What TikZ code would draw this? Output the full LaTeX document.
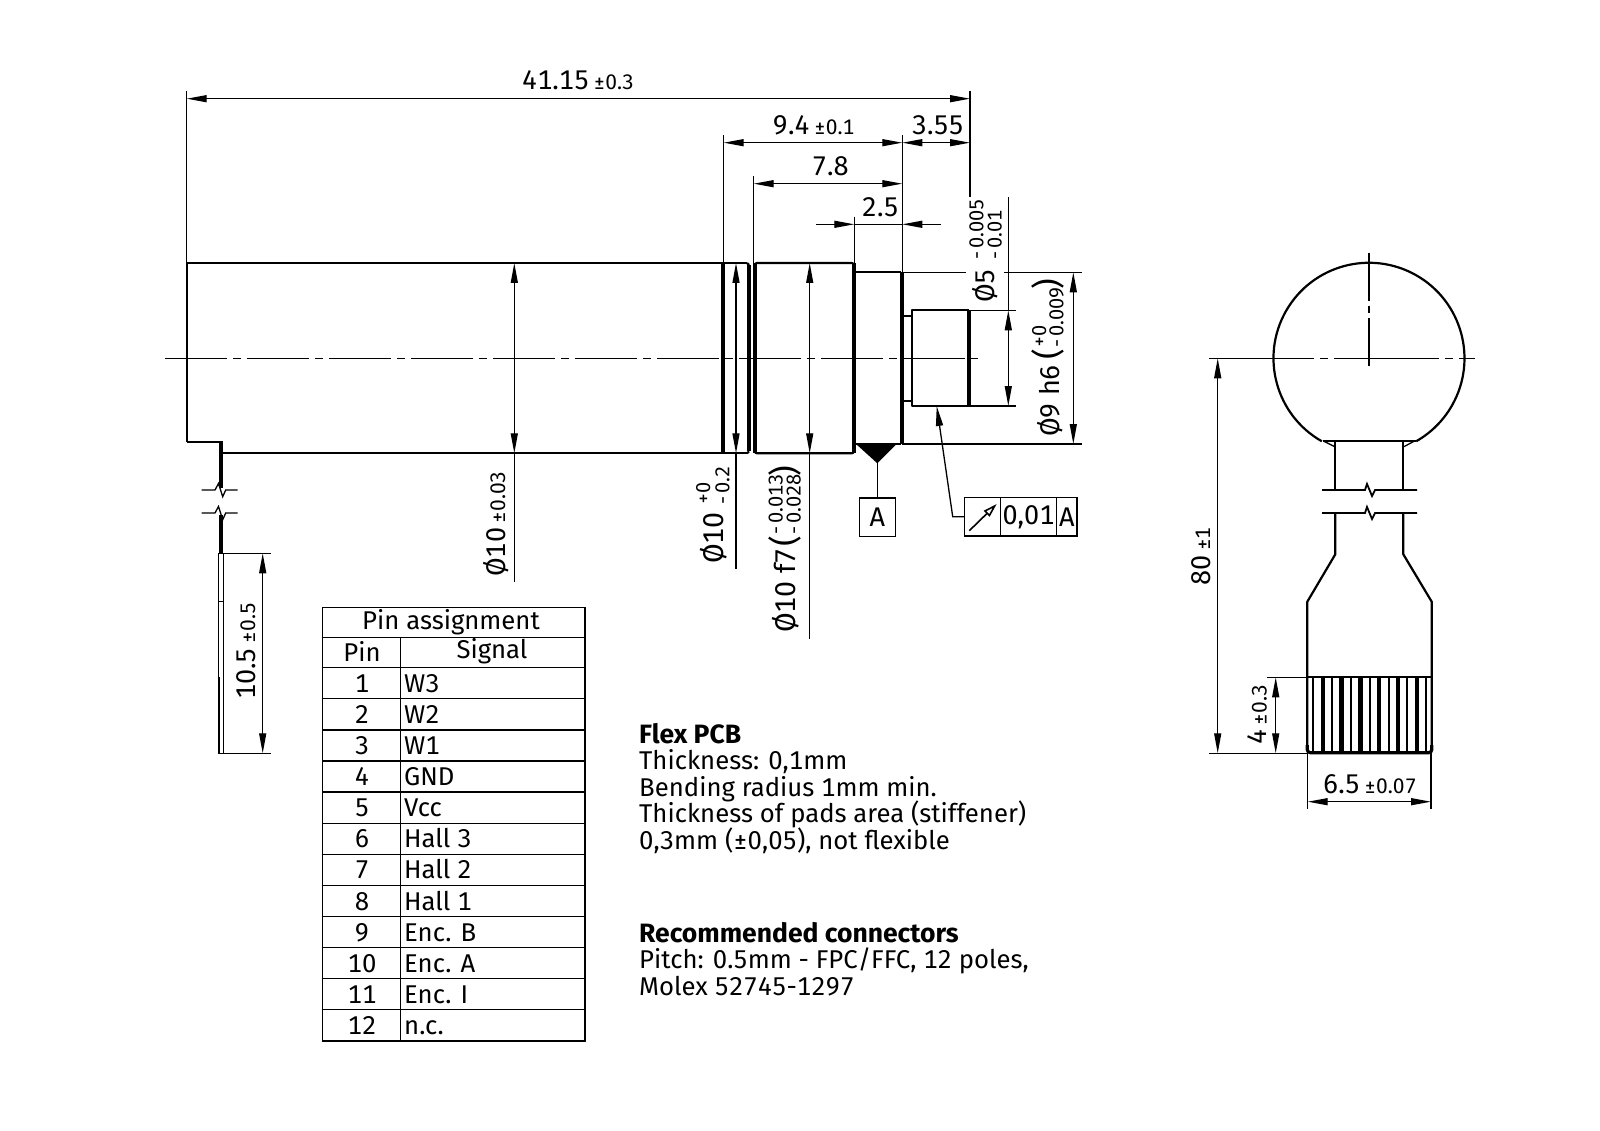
\documentclass[tikz,border=0pt]{standalone}
\usepackage{fontspec}
\setmainfont[Numbers=Monospaced]{Fira Sans}
\usetikzlibrary{arrows.meta}
\newcommand{\tol}[1]{\,{\fontsize{21}{21}\selectfont #1}}
\begin{document}
\begin{tikzpicture}[x=1pt, y=-1pt, >={Triangle[length=20pt,width=7pt]}]
\tikzstyle{outline}=[line width=2.2pt, line join=round]
\tikzstyle{heavy}=[line width=4pt]
\tikzstyle{thin}=[line width=1.3pt]
\tikzstyle{axis}=[line width=1.2pt, dash pattern=on 62pt off 6pt on 8pt off 6pt]
\tikzstyle{big}=[inner sep=0pt, font=\fontsize{27}{27}\selectfont]
\tikzstyle{diam}=[inner sep=0pt, font=\fontsize{28.5}{28.5}\selectfont]
\tikzstyle{small}=[inner sep=0pt, font=\fontsize{20}{20}\selectfont]
\tikzstyle{para}=[inner sep=0pt, font=\fontsize{33}{33}\selectfont]
\tikzstyle{body}=[inner sep=0pt, anchor=base west, font=\fontsize{25.7}{25.7}\selectfont]
\tikzstyle{head}=[inner sep=0pt, anchor=base west, font=\fontsize{26.5}{26.5}\selectfont\bfseries]
\tikzstyle{vert}=[rotate=90, anchor=base west]
\tikzstyle{frame}=[big, draw, thin, outer sep=0pt, minimum height=38.3pt]
\useasboundingbox (0,0) rectangle (1600,1131);
% motor body
\draw[outline] (223.3,453.3) -- (747,453.3) (186.7,441.7) -- (186.7,263) -- (747,263);
\draw[outline] (186.7,441.7) -- (223.3,441.7);
\draw[outline] (747,263) -- (749,265) (747,453.3) -- (749,451.3);
\draw[outline, rounded corners=2pt] (755,263) rectangle (853.7,453.3);
\draw[outline] (853.7,272.3) -- (901.3,272.3) (853.7,444) -- (901.3,444);
\draw[heavy] (722.7,263) -- (722.7,453.3) (854,263) -- (854,453.3) (902,272.3) -- (902,444);
\draw[line width=3.4pt] (749,265) -- (749,451.3) (755,263) -- (755,453.3);
\draw[outline] (902,315.7) -- (912.3,315.7) (902,401.3) -- (912.3,401.3);
\draw[outline] (969.3,310.3) -- (912.3,310.3) -- (912.3,406) -- (969.3,406);
\draw[heavy] (969.3,310.3) -- (969.3,406);
\draw[axis] (165.3,358.7) -- (978,358.7);
% flex cable side view
\fill (218.7,441.7) rectangle (223.3,488);
\fill (218.7,515) rectangle (223.3,553.3);
\draw[line width=1.5pt] (218.7,553.3) rectangle (223.3,753.3) (218.7,601.7) -- (223.3,601.7);
\draw[line width=2pt] (218.7,677) -- (218.7,753.3);
\draw[thin] (201.7,490) -- (215,490) -- (218.5,483.5) -- (222.7,496.7) -- (225.7,490) -- (237.7,490);
\draw[thin] (201.7,513) -- (215,513) -- (218.5,506.5) -- (222.7,519.7) -- (225.7,513) -- (237.7,513);
\draw[thin] (223.3,553.3) -- (271,553.3) (223.3,753.3) -- (271,753.3);
\draw[thin,<->] (262.7,553.3) -- (262.7,753.3);
\node[big, vert] (dimflex) at (255,700) {10.5\tol{±0.5}};
% top dimensions
\draw[thin] (186.7,91) -- (186.7,263) (970,91) -- (970,197);
\draw[thin,<->] (186.7,98.7) -- (970,98.7);
\node[big, anchor=base west] (dimlen) at (522,90) {41.15\tol{±0.3}};
\draw[thin] (723.7,135) -- (723.7,263) (902.3,135) -- (902.3,272) (753.7,176) -- (753.7,263) (854.3,216.7) -- (854.3,263);
\draw[thin,<->] (723.7,142.7) -- (902.3,142.7);
\node[big, anchor=base west] (dimfront) at (772.7,135) {9.4\tol{±0.1}};
\draw[thin,<->] (902.3,142.7) -- (970,142.7);
\node[big, anchor=base west] (dimshaft) at (911.7,135) {3.55};
\draw[thin,<->] (753.7,183.7) -- (902.3,183.7);
\node[big, anchor=base west] (dimsleeve) at (811.7,176) {7.8};
\draw[thin] (854.3,224.3) -- (902.3,224.3);
\draw[thin,->] (816,224.3) -- (854.3,224.3);
\draw[thin,->] (941,224.3) -- (902.3,224.3);
\node[big, anchor=base west] (dimstep) at (861.7,216.7) {2.5};
% diameters
\draw[thin,<->] (514.3,263) -- (514.3,453.3);
\draw[thin] (514.3,453.3) -- (514.3,581.6);
\node[big, vert] (diaa) at (505,577) {Ø10\tol{±0.03}};
\draw[thin,<->] (736,263) -- (736,453.3);
\draw[thin] (736,453.3) -- (736,569.3);
\node[diam, vert] (diab) at (723.3,564) {Ø10};
\node[small, vert] (diabp) at (710,505) {+0};
\node[small, vert] (diabm) at (729.3,505) {-\,0.2};
\draw[thin,<->] (809.7,263) -- (809.7,453.3);
\draw[thin] (809.7,453.3) -- (809.7,639);
\node[diam, vert] (diac) at (795,633) {Ø10 f7};
\node[para, rotate=90] (parca) at (785,541) {(};
\node[small, vert] (diacp) at (782.7,535) {-\,0.013};
\node[small, vert] (diacm) at (800.7,535) {-\,0.028};
\node[para, rotate=90] (parcb) at (785,471) {)};
\draw[thin] (902,272.3) -- (966,272.3) (1004,272.3) -- (1081.7,272.3) (902,444) -- (1081.7,444) (969.3,310.3) -- (1016,310.3) (969.3,406) -- (1016,406);
\draw[thin] (1008.3,197) -- (1008.3,310.3);
\draw[thin,<->] (1008.3,310.3) -- (1008.3,406);
\node[big, vert] (diad) at (994,303) {Ø5};
\node[small, vert] (diadp) at (983.3,260) {-\,0.005};
\node[small, vert] (diadm) at (1001.7,260) {-\,0.01};
\draw[thin,<->] (1073.3,272.3) -- (1073.3,444);
\node[big, vert] (diae) at (1059.3,437) {Ø9 h6};
\node[para, rotate=90] (parea) at (1048,354) {(};
\node[small, vert] (diaep) at (1046,348) {+0};
\node[small, vert] (diaem) at (1063.3,348) {-\,0.009};
\node[para, rotate=90] (pareb) at (1048,284) {)};
% datum and runout
\fill (856,444) -- (896.7,444) -- (877.3,463.3) -- cycle;
\node[frame, minimum width=36pt] (datum) at (877.3,517) {A};
\draw[thin] (877.3,463.3) -- (datum.north);
\node[frame, minimum width=35.6pt, anchor=north west] (fcfa) at (964.7,497.7) {};
\node[frame, minimum width=56.4pt, anchor=west] (fcfb) at (fcfa.east) {0,01};
\node[frame, minimum width=20.3pt, anchor=west] (fcfc) at (fcfb.east) {A};
\draw[thin,->] (fcfa.west) -- (952.7,516.7) -- (936.7,406);
\draw[line width=1.6pt, -{Triangle[length=14pt,width=8pt,open,fill=white]}] (969.3,530.7) -- (996.7,504);
% table
\draw[thin] (322.5,607.3) rectangle (585,1040.9);
\draw[thin] (322.5,637.3) -- (585,637.3) (400.7,637.3) -- (400.7,1040.9);
\foreach \r in {0,...,11} \draw[thin] (322.5,667.7+\r*31.1) -- (585,667.7+\r*31.1);
\node[body, anchor=base] (tabtitle) at (451,629) {Pin assignment};
\node[body, anchor=base] (tabpin) at (362,661.7) {Pin};
\node[body, anchor=base] (tabsig) at (492,658) {Signal};
\foreach \n/\s [count=\r from 0] in {1/W3,2/W2,3/W1,4/GND,5/Vcc,6/Hall 3,7/Hall 2,8/Hall 1,9/Enc. B,10/Enc. A,11/Enc. I,12/n.c.} {
  \node[body, anchor=base] (pin\n) at (362,692.3+\r*31.1) {\n};
  \node[body] (sig\n) at (404,692.3+\r*31.1) {\s};
}
% notes
\node[head] (flexhead) at (639,743) {Flex PCB};
\node[body] (flexa) at (639,769) {Thickness: 0,1mm};
\node[body] (flexb) at (639,796) {Bending radius 1mm min.};
\node[body] (flexc) at (639,822) {Thickness of pads area (stiffener)};
\node[body] (flexd) at (639,849) {0,3mm (±0,05), not flexible};
\node[head] (connhead) at (639,942) {Recommended connectors};
\node[body] (conna) at (639,968) {Pitch: 0.5mm - FPC/FFC, 12 poles,};
\node[body] (connb) at (639,995) {Molex 52745-1297};
% flex cable front view
\draw[outline] (1321.8,441.3) arc[start angle=119.6, end angle=420.4, radius=95.5];
\draw[outline] (1323,441.3) -- (1416,441.3);
\draw[thin] (1324,441.3) -- (1335.3,447) (1414,441.3) -- (1403.3,447);
\draw[axis, dash pattern=on 105pt off 6pt on 8pt off 6pt] (1209.3,358.3) -- (1475,358.3);
\draw[thin, dash pattern=on 48pt off 5pt on 7pt off 5pt] (1369,253) -- (1369,368);
\draw[outline] (1335.3,441.3) -- (1335.3,490) (1403.3,441.3) -- (1403.3,490);
\draw[outline] (1335.3,513) -- (1335.3,554.3) -- (1307.3,601.7) -- (1307.3,751) (1403.3,513) -- (1403.3,554.3) -- (1431.7,601.7) -- (1431.7,751);
\draw[outline] (1307.3,677.3) -- (1431.7,677.3);
\draw[line width=3.2pt, rounded corners=3pt] (1307.3,745) -- (1307.3,752.7) -- (1431.7,752.7) -- (1431.7,745);
\foreach \p in {0,2,...,12} \draw[line width=2pt] (1313.3+\p*9.4,677.3) -- (1313.3+\p*9.4,753);
\foreach \p in {1,3,...,11} \draw[line width=4.4pt] (1313.3+\p*9.4,677.3) -- (1313.3+\p*9.4,753);
\draw[line width=1.8pt] (1322,490) -- (1365,490) -- (1367,484) -- (1372,496) -- (1375,490) -- (1417,490);
\draw[line width=1.8pt] (1322,513) -- (1365,513) -- (1367,507) -- (1372,519) -- (1375,513) -- (1417,513);
\draw[thin] (1209.3,753.3) -- (1307,753.3) (1267,677.3) -- (1307,677.3) (1307.7,753.3) -- (1307.7,809) (1431,753.3) -- (1431,809);
\draw[thin,<->] (1217.7,358.3) -- (1217.7,753.3);
\node[big, vert] (dimtotal) at (1210,585.7) {80\tol{±1}};
\draw[thin,<->] (1275.7,677.3) -- (1275.7,753.3);
\node[big, vert] (dimpads) at (1266.7,745) {4\tol{±0.3}};
\draw[thin,<->] (1307.7,801.7) -- (1431,801.7);
\node[big, anchor=base west] (dimwidth) at (1323,793) {6.5\tol{±0.07}};
\end{tikzpicture}
\end{document}
